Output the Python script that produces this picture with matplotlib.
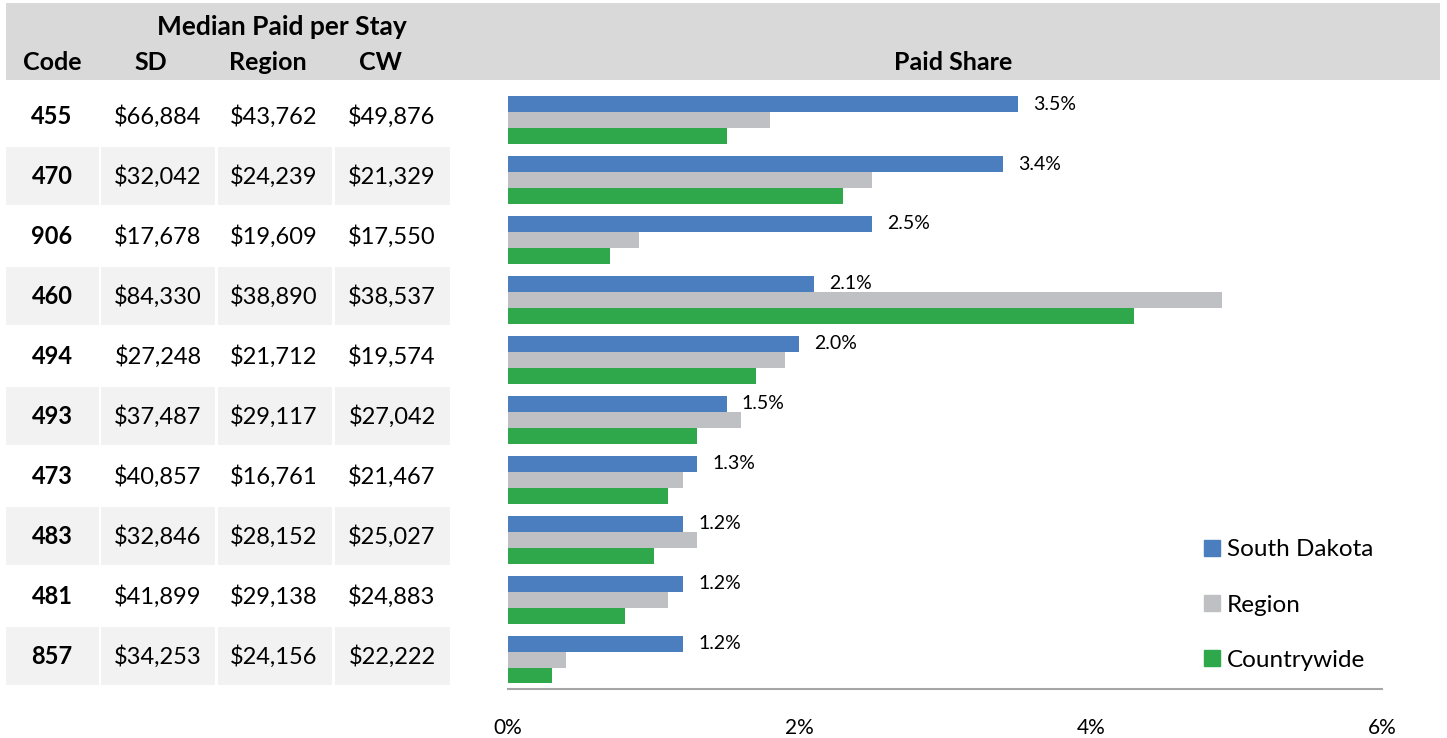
import matplotlib
matplotlib.use("Agg")
import matplotlib.pyplot as plt
from matplotlib.patches import Rectangle, Patch
from matplotlib.ticker import FuncFormatter

plt.rcParams['font.family'] = ['Lato', 'DejaVu Sans']

# data
codes = ["455", "470", "906", "460", "494", "493", "473", "483", "481", "857"]
paid_sd = [66884, 32042, 17678, 84330, 27248, 37487, 40857, 32846, 41899, 34253]
paid_region = [43762, 24239, 19609, 38890, 21712, 29117, 16761, 28152, 29138, 24156]
paid_cw = [49876, 21329, 17550, 38537, 19574, 27042, 21467, 25027, 24883, 22222]

share_sd = [3.5, 3.4, 2.5, 2.1, 2.0, 1.5, 1.3, 1.2, 1.2, 1.2]
share_region = [1.8, 2.5, 0.9, 4.9, 1.9, 1.6, 1.2, 1.3, 1.1, 0.4]
share_cw = [1.5, 2.3, 0.7, 4.3, 1.7, 1.3, 1.1, 1.0, 0.8, 0.3]

series_names = ["South Dakota", "Region", "Countrywide"]
series_colors = ["#4a7ebf", "#bfc0c3", "#2ea84a"]

W, H = 1447, 738
fig = plt.figure(figsize=(W / 100, H / 100), dpi=100)

# background axes in pixel coords for the table part
bg = fig.add_axes([0, 0, 1, 1])
bg.set_xlim(0, W)
bg.set_ylim(H, 0)
bg.axis("off")

bg.add_patch(Rectangle((6, 3), 1434, 77, color="#d9d9d9", lw=0))
bg.text(282, 27, "Median Paid per Stay", ha="center", va="center", fontsize=19, fontweight="bold")
header_x = [52, 151, 268, 380]
for x, lab in zip(header_x, ["Code", "SD", "Region", "CW"]):
    bg.text(x, 63, lab, ha="center", va="center", fontsize=18, fontweight="bold")
bg.text(953, 63, "Paid Share", ha="center", va="center", fontsize=18, fontweight="bold")

col_edges = [(6, 99), (101, 215), (218, 332), (335, 450)]
val_x = [52, 158, 274, 392]
row0, pitch = 117, 59.95
for i, code in enumerate(codes):
    cy = row0 + pitch * i
    if i % 2 == 1:
        for x0, x1 in col_edges:
            bg.add_patch(Rectangle((x0, cy - 29.5), x1 - x0, 58, color="#f2f2f2", lw=0))
    bg.text(val_x[0], cy, code, ha="center", va="center", fontsize=17, fontweight="bold")
    for x, v in zip(val_x[1:], [paid_sd[i], paid_region[i], paid_cw[i]]):
        bg.text(x, cy, "${:,}".format(v), ha="center", va="center", fontsize=17)

# bar chart
ax_l, ax_r, ax_t, ax_b = 508, 1382, 80, 689
ax = fig.add_axes([ax_l / W, (H - ax_b) / H, (ax_r - ax_l) / W, (ax_b - ax_t) / H])
ax.patch.set_visible(False)

grp0 = 120
top = (ax_t - grp0) / pitch
bot = (ax_b - grp0) / pitch
bh = 0.266
ypos = list(range(len(codes)))

ax.barh([y - bh for y in ypos], share_sd, height=bh, color=series_colors[0], label=series_names[0])
ax.barh(ypos, share_region, height=bh, color=series_colors[1], label=series_names[1])
ax.barh([y + bh for y in ypos], share_cw, height=bh, color=series_colors[2], label=series_names[2])

for y, v in zip(ypos, share_sd):
    ax.annotate("{:.1f}%".format(v), (v, y - bh), xytext=(11, 0), textcoords="offset points",
                ha="left", va="center", fontsize=14)

ax.set_xlim(0, 6)
ax.set_ylim(bot, top)
ax.set_xticks([0, 2, 4, 6])
ax.xaxis.set_major_formatter(FuncFormatter(lambda v, p: "{:.0f}%".format(v)))
ax.tick_params(axis="x", length=0, pad=21, labelsize=15)
ax.set_yticks([])
for s in ["top", "right", "left"]:
    ax.spines[s].set_visible(False)
ax.spines["bottom"].set_color("#a6a6a6")
ax.spines["bottom"].set_linewidth(1.5)

handles = [Patch(color=c, label=n) for c, n in zip(series_colors, series_names)]
fig.legend(handles=handles, loc="center left", bbox_to_anchor=(1182 / W, (H - 605) / H),
           frameon=False, fontsize=17.5, handlelength=0.66, handleheight=0.66,
           handletextpad=0.3, labelspacing=1.4)

fig.savefig("out.png", dpi=100)
